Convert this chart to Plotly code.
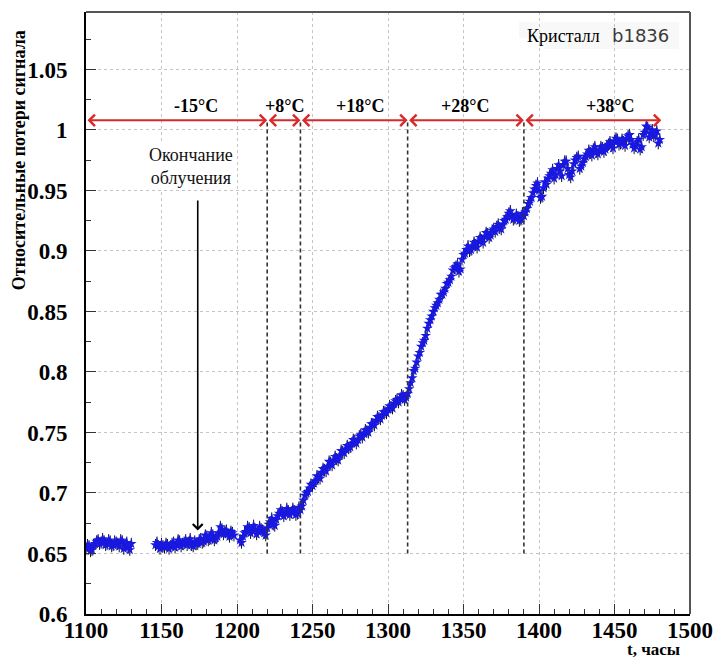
import plotly.graph_objects as go

# ---------------- data ----------------
# even-hour readings
t_a = [1100, 1102, 1104, 1106, 1108, 1110, 1112, 1114, 1116, 1118, 1120, 1122, 1124, 1126, 1128, 1130]
v_a = [0.654, 0.656, 0.653, 0.658, 0.661, 0.659, 0.660, 0.658, 0.660, 0.657, 0.659, 0.656, 0.660, 0.657, 0.655, 0.658]
# odd-hour readings
t_a2 = [1101, 1103, 1105, 1107, 1109, 1111, 1113, 1115, 1117, 1119, 1121, 1123, 1125, 1127, 1129]
v_a2 = [0.657, 0.652, 0.657, 0.660, 0.658, 0.662, 0.657, 0.661, 0.656, 0.660, 0.658, 0.661, 0.654, 0.659, 0.653]

t_b = [1146, 1148, 1150, 1152, 1154, 1156, 1158, 1160, 1162, 1164, 1166, 1168, 1170, 1172,
       1174, 1176, 1178, 1180, 1182, 1184, 1186, 1188, 1190, 1192, 1194, 1196, 1198]
v_b = [0.657, 0.656, 0.658, 0.655, 0.657, 0.656, 0.659, 0.657, 0.660, 0.658, 0.661, 0.659, 0.657, 0.660,
       0.658, 0.662, 0.660, 0.664, 0.662, 0.665, 0.663, 0.667, 0.670, 0.668, 0.666, 0.668, 0.665]
t_b2 = [1147, 1149, 1151, 1153, 1155, 1157, 1159, 1161, 1163, 1165, 1167, 1169, 1171,
        1173, 1175, 1177, 1179, 1181, 1183, 1185, 1187, 1189, 1191, 1193, 1195, 1197]
v_b2 = [0.659, 0.654, 0.656, 0.658, 0.654, 0.658, 0.655, 0.661, 0.656, 0.659, 0.657, 0.662, 0.656,
        0.658, 0.661, 0.659, 0.665, 0.661, 0.667, 0.661, 0.664, 0.672, 0.666, 0.669, 0.664, 0.667]

t_c = [1202, 1204, 1206, 1208, 1210, 1212, 1214, 1216, 1218, 1220, 1222, 1224, 1226, 1228, 1230,
       1232, 1234, 1236, 1238, 1240, 1242, 1244, 1246, 1248, 1250, 1252, 1254, 1256, 1258, 1260,
       1262, 1264, 1266, 1268, 1270, 1272, 1274, 1276, 1278, 1280, 1282, 1284, 1286, 1288, 1290,
       1292, 1294, 1296, 1298, 1300, 1302, 1304, 1306, 1308, 1310, 1312, 1314, 1316, 1318, 1320,
       1322, 1324, 1326, 1328, 1330, 1332, 1334, 1336, 1338, 1340, 1342, 1344, 1346, 1348, 1350,
       1352, 1354, 1356, 1358, 1360, 1362, 1364, 1366, 1368, 1370, 1372, 1374, 1376, 1378, 1380,
       1382, 1384, 1386, 1388, 1390, 1392, 1394, 1396, 1398, 1400, 1402, 1404, 1406, 1408, 1410,
       1412, 1414, 1416, 1418, 1420, 1422, 1424, 1426, 1428, 1430, 1432, 1434, 1436, 1438, 1440,
       1442, 1444, 1446, 1448, 1450, 1452, 1454, 1456, 1458, 1460, 1462, 1464, 1466, 1468, 1470,
       1472, 1474, 1476, 1478, 1480]
v_c = [0.661, 0.664, 0.668, 0.671, 0.669, 0.670, 0.668, 0.670, 0.667, 0.671, 0.676, 0.674, 0.678, 0.683, 0.684,
       0.683, 0.685, 0.684, 0.685, 0.683, 0.686, 0.694, 0.700, 0.704, 0.706, 0.710, 0.713, 0.717, 0.719, 0.722,
       0.725, 0.727, 0.728, 0.731, 0.734, 0.736, 0.737, 0.741, 0.743, 0.744, 0.748, 0.749, 0.751, 0.754, 0.757,
       0.760, 0.762, 0.764, 0.767, 0.769, 0.771, 0.774, 0.777, 0.778, 0.780, 0.779, 0.786, 0.795, 0.803, 0.813,
       0.821, 0.826, 0.836, 0.843, 0.850, 0.855, 0.860, 0.864, 0.869, 0.874, 0.879, 0.886, 0.889, 0.885, 0.897,
       0.901, 0.900, 0.904, 0.905, 0.908, 0.909, 0.912, 0.914, 0.913, 0.918, 0.920, 0.919, 0.922, 0.926, 0.931,
       0.929, 0.927, 0.928, 0.926, 0.929, 0.935, 0.941, 0.948, 0.954, 0.950, 0.945, 0.957, 0.960, 0.964, 0.960,
       0.968, 0.966, 0.971, 0.974, 0.963, 0.966, 0.975, 0.978, 0.970, 0.976, 0.980, 0.981, 0.984, 0.982, 0.983,
       0.985, 0.984, 0.988, 0.987, 0.991, 0.992, 0.989, 0.990, 0.993, 0.996, 0.988, 0.987, 0.992, 0.986, 0.998,
       1.002, 0.997, 0.995, 0.999, 0.992]
t_c2 = [1203, 1205, 1207, 1209, 1211, 1213, 1215, 1217, 1219, 1221, 1223, 1225, 1227, 1229, 1231,
        1233, 1235, 1237, 1239, 1241, 1243, 1245, 1247, 1249, 1251, 1253, 1255, 1257, 1259, 1261,
        1263, 1265, 1267, 1269, 1271, 1273, 1275, 1277, 1279, 1281, 1283, 1285, 1287, 1289, 1291,
        1293, 1295, 1297, 1299, 1301, 1303, 1305, 1307, 1309, 1311, 1313, 1315, 1317, 1319, 1321,
        1323, 1325, 1327, 1329, 1331, 1333, 1335, 1337, 1339, 1341, 1343, 1345, 1347, 1349, 1351,
        1353, 1355, 1357, 1359, 1361, 1363, 1365, 1367, 1369, 1371, 1373, 1375, 1377, 1379, 1381,
        1383, 1385, 1387, 1389, 1391, 1393, 1395, 1397, 1399, 1401, 1403, 1405, 1407, 1409, 1411,
        1413, 1415, 1417, 1419, 1421, 1423, 1425, 1427, 1429, 1431, 1433, 1435, 1437, 1439, 1441,
        1443, 1445, 1447, 1449, 1451, 1453, 1455, 1457, 1459, 1461, 1463, 1465, 1467, 1469, 1471,
        1473, 1475, 1477, 1479]
v_c2 = [0.659, 0.667, 0.672, 0.667, 0.673, 0.666, 0.672, 0.669, 0.665, 0.674, 0.679, 0.673, 0.681, 0.686, 0.681,
        0.687, 0.682, 0.687, 0.682, 0.688, 0.689, 0.698, 0.701, 0.707, 0.708, 0.714, 0.712, 0.720, 0.718, 0.726,
        0.723, 0.730, 0.727, 0.735, 0.733, 0.739, 0.738, 0.744, 0.741, 0.747, 0.746, 0.752, 0.750, 0.757, 0.756,
        0.763, 0.761, 0.767, 0.766, 0.772, 0.770, 0.776, 0.775, 0.781, 0.777, 0.782, 0.791, 0.801, 0.808, 0.816,
        0.824, 0.830, 0.840, 0.846, 0.853, 0.857, 0.864, 0.866, 0.873, 0.876, 0.884, 0.887, 0.883, 0.893, 0.898,
        0.904, 0.901, 0.907, 0.903, 0.911, 0.907, 0.915, 0.911, 0.917, 0.916, 0.922, 0.918, 0.925, 0.928, 0.933,
        0.926, 0.930, 0.925, 0.931, 0.932, 0.939, 0.944, 0.951, 0.956, 0.944, 0.952, 0.955, 0.962, 0.967, 0.963,
        0.971, 0.962, 0.974, 0.968, 0.961, 0.972, 0.977, 0.968, 0.973, 0.978, 0.983, 0.979, 0.986, 0.980, 0.986,
        0.982, 0.987, 0.990, 0.985, 0.993, 0.988, 0.992, 0.987, 0.995, 0.992, 0.985, 0.990, 0.984, 0.996, 1.003,
        0.994, 1.000, 0.996, 0.989]

err = 0.005

# temperature stages
stage_edges = [1100, 1220, 1242, 1313, 1390, 1481]
stage_labels = ["-15°C", "+8°C", "+18°C", "+28°C", "+38°C"]
stage_label_x = [1172.6, 1231.2, 1281.5, 1351.3, 1446.7]
stage_y = 1.008
stage_label_y = 1.0195

x_ticks = [1100, 1150, 1200, 1250, 1300, 1350, 1400, 1450, 1500]
x_ticktext = ["1100", "1150", "1200", "1250", "1300", "1350", "1400", "1450", "1500"]
y_ticks = [0.6, 0.65, 0.7, 0.75, 0.8, 0.85, 0.9, 0.95, 1.0, 1.05]
y_ticktext = ["0.6", "0.65", "0.7", "0.75", "0.8", "0.85", "0.9", "0.95", "1", "1.05"]

irr_end_t = 1174
irr_arrow_top = 0.943
irr_arrow_tip = 0.669

X_RANGE = [1100, 1500]
Y_RANGE = [0.6, 1.0975]

SERIF = "Liberation Serif"

pairs = [(t_a, v_a), (t_a2, v_a2), (t_b, v_b), (t_b2, v_b2), (t_c, v_c), (t_c2, v_c2)]
t_all, v_all = [], []
for tt, vv in pairs:
    assert len(tt) == len(vv), (len(tt), len(vv))
    t_all += tt
    v_all += vv

fig = go.Figure()
fig.add_trace(go.Scatter(
    x=t_all, y=v_all, mode="markers",
    marker=dict(symbol="star", size=8, color="#1818e0", line=dict(width=0)),
    error_y=dict(type="constant", value=err, color="#111111", thickness=1, width=0),
    showlegend=False, hoverinfo="x+y",
))

shapes = []
# blank patch hiding grid (as in the original)
shapes.append(dict(type="rect", xref="x", yref="y", x0=1147, x1=1403.7, y0=1.0413, y1=1.076,
                   fillcolor="white", line=dict(width=0), layer="below"))
# faint label box behind "Кристалл b1836"
shapes.append(dict(type="rect", xref="paper", yref="paper",
                   x0=(527 - 86) / 615, x1=(690 - 86) / 615, y0=(614 - 49) / 602, y1=(614 - 22) / 602,
                   fillcolor="#f8f8f8", line=dict(width=0), layer="below"))
# dashed stage boundaries
for e in stage_edges[1:-1]:
    shapes.append(dict(type="line", xref="x", yref="y", x0=e, x1=e, y0=0.65, y1=stage_y,
                       line=dict(color="#333333", width=1.6, dash="4px,3px"), layer="above"))
# top & right frame
shapes.append(dict(type="line", xref="paper", yref="paper", x0=0, x1=1, y0=1, y1=1,
                   line=dict(color="#555555", width=2)))
shapes.append(dict(type="line", xref="paper", yref="paper", x0=1, x1=1, y0=0, y1=1,
                   line=dict(color="#555555", width=2)))

annotations = []
RED = "#d82a2a"
for a, b in zip(stage_edges[:-1], stage_edges[1:]):
    annotations.append(dict(x=b, y=stage_y, ax=a, ay=stage_y, xref="x", yref="y", axref="x", ayref="y",
                            text="", showarrow=True, arrowside="end+start", arrowhead=4, startarrowhead=4,
                            arrowsize=1.1, startarrowsize=1.1, arrowwidth=2, arrowcolor=RED,
                            standoff=0, startstandoff=0))
for lab, lx in zip(stage_labels, stage_label_x):
    annotations.append(dict(x=lx, y=stage_label_y, xref="x", yref="y", text=lab, showarrow=False,
                            font=dict(family=SERIF, size=18, color="black", weight="bold")))

# end of irradiation
annotations.append(dict(x=irr_end_t, y=irr_arrow_tip, ax=irr_end_t, ay=irr_arrow_top,
                        xref="x", yref="y", axref="x", ayref="y", text="", showarrow=True,
                        arrowhead=4, arrowsize=1.2, arrowwidth=1.6, arrowcolor="black", standoff=0))
annotations.append(dict(x=1169.3, y=0.970, xref="x", yref="y",
                        text="Окончание<br>облучения", showarrow=False, align="center",
                        bgcolor="white",
                        font=dict(family=SERIF, size=18, color="#111111")))

# crystal label
annotations.append(dict(x=(611 - 86) / 615, y=(614 - 35.5) / 602, xref="paper", yref="paper",
                        xanchor="right", yanchor="middle", text="Кристалл", showarrow=False,
                        font=dict(family=SERIF, size=18, color="black")))
annotations.append(dict(x=(620 - 86) / 615, y=(614 - 35.5) / 602, xref="paper", yref="paper",
                        xanchor="left", yanchor="middle", text="b1836", showarrow=False,
                        font=dict(family="DejaVu Sans", size=18, color="#3a3a3a")))

# axis titles
annotations.append(dict(x=(18 - 86) / 615, y=(614 - 160) / 602, xref="paper", yref="paper",
                        text="Относительные потери сигнала", textangle=-90, showarrow=False,
                        xanchor="center", yanchor="middle",
                        font=dict(family=SERIF, size=18, color="black", weight="bold")))
annotations.append(dict(x=(693 - 86) / 615, y=(614 - 649) / 602, xref="paper", yref="paper",
                        xanchor="right", yanchor="middle", text="t, часы", showarrow=False,
                        font=dict(family=SERIF, size=17, color="black", weight="bold")))

fig.update_layout(
    width=725, height=664,
    margin=dict(l=86, r=24, t=12, b=50),
    paper_bgcolor="white", plot_bgcolor="white",
    shapes=shapes, annotations=annotations,
    showlegend=False,
)
fig.update_xaxes(
    range=X_RANGE, tickvals=x_ticks, ticktext=x_ticktext,
    ticks="inside", ticklen=10, tickwidth=1, tickcolor="#333333",
    minor=dict(dtick=10, ticks="inside", ticklen=5, tickcolor="#333333", showgrid=False),
    showgrid=True, gridcolor="#c4c4c4", griddash="dot", gridwidth=1,
    showline=True, linecolor="black", linewidth=2, zeroline=False,
    tickfont=dict(family=SERIF, size=23, color="black", weight="bold"),
    ticklabelstandoff=-6,
)
fig.update_yaxes(
    range=Y_RANGE, tickvals=y_ticks, ticktext=y_ticktext,
    ticks="inside", ticklen=10, tickwidth=1, tickcolor="#333333",
    minor=dict(dtick=0.025, tick0=0.6, ticks="inside", ticklen=5, tickcolor="#333333", showgrid=False),
    showgrid=True, gridcolor="#c4c4c4", griddash="dot", gridwidth=1,
    showline=True, linecolor="black", linewidth=2, zeroline=False,
    tickfont=dict(family=SERIF, size=23, color="black", weight="bold"),
    ticklabelstandoff=12,
)

fig.write_html("out.html")
